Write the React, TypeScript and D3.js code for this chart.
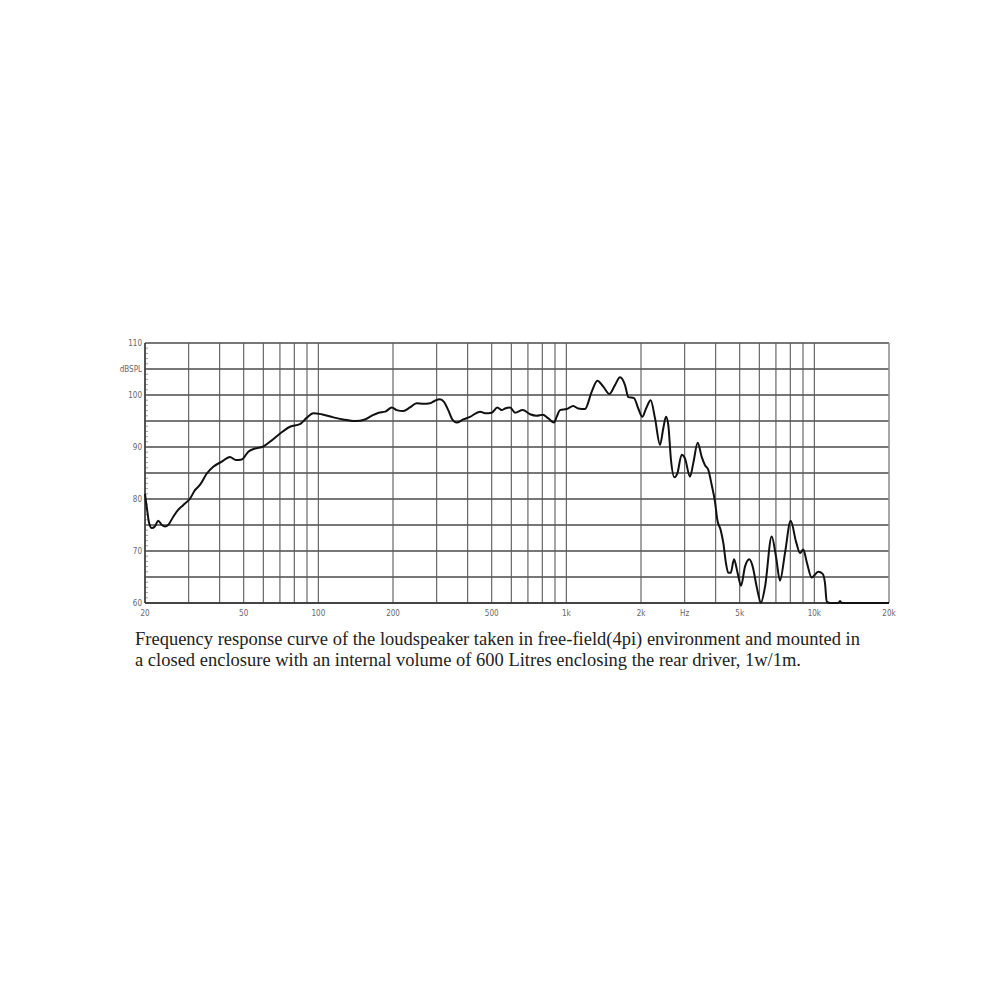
import * as d3 from "d3";

const freqs = [
  20, 20.4, 20.8, 21.3, 21.9, 22.6, 23.4, 24.1, 24.8, 26.0, 27.2, 28.5, 30.4, 31.8, 33.3, 35.5, 37.7, 40.8, 44.0, 46.5,
  49.1, 52.2, 55.5, 60.0, 63.8, 70.1, 76.9, 84.3, 89.7, 95.4, 103, 115, 126, 141, 154, 164, 175, 186, 198, 207,
  220, 234, 249, 265, 282, 295, 309, 321, 334, 348, 361, 384, 409, 449, 470, 500, 527, 549, 566, 593,
  621, 667, 714, 759, 803, 846, 892, 914, 943, 1003, 1067, 1117, 1189, 1265, 1333, 1409, 1490, 1571, 1646, 1724,
  1778, 1874, 1950, 2024, 2096, 2188, 2278, 2386, 2460, 2522, 2577, 2642, 2725, 2802, 2918, 3008, 3152, 3250, 3386, 3514,
  3623, 3736, 3856, 3975, 4062, 4193, 4296, 4404, 4498, 4600, 4743, 4908, 5061, 5253, 5467, 5642, 5856, 6094, 6325, 6730,
  7006, 7270, 7614, 8028, 8434, 8754, 9026, 9316, 9760, 10375, 10808, 11040, 11218, 11567, 12494, 12692, 12894, 20000,
];
const spl = [
  81.0, 77.9, 75.3, 74.4, 74.7, 75.8, 75.0, 74.7, 75.0, 76.6, 77.9, 78.8, 80.1, 81.7, 82.7, 84.9, 86.2, 87.2, 88.1, 87.5,
  87.6, 89.1, 89.7, 90.1, 91.0, 92.6, 93.9, 94.4, 95.6, 96.5, 96.3, 95.7, 95.3, 95.0, 95.3, 96.0, 96.6, 96.8, 97.6, 97.1,
  96.9, 97.6, 98.4, 98.3, 98.4, 98.9, 99.2, 98.7, 97.1, 95.2, 94.7, 95.3, 95.8, 96.8, 96.5, 96.6, 97.6, 97.1, 97.4, 97.6,
  96.6, 97.1, 96.3, 96.0, 96.2, 95.5, 94.7, 95.8, 97.1, 97.3, 97.9, 97.4, 97.3, 100.6, 102.75, 101.6, 100.2, 101.9, 103.4, 101.9,
  99.6, 99.4, 97.4, 95.8, 97.4, 99.0, 95.5, 90.4, 93.6, 95.8, 94.2, 87.5, 84.2, 84.9, 88.5, 87.8, 84.3, 86.9, 90.8, 88.1,
  86.5, 85.6, 82.7, 79.5, 76.0, 74.0, 71.5, 67.6, 65.8, 65.8, 68.4, 65.7, 63.3, 67.0, 68.4, 67.0, 63.1, 60.1, 63.1, 72.8,
  68.9, 64.3, 69.6, 75.8, 71.8, 69.6, 70.3, 67.9, 64.9, 66.0, 65.6, 63.8, 60.3, 60, 60, 60.4, 60, 60,
];

const gridFreqs = [
  20, 30, 40, 50, 60, 70, 80, 90, 100, 200, 300, 400, 500, 600, 700, 800, 900,
  1000, 2000, 3000, 4000, 5000, 6000, 7000, 8000, 9000, 10000, 20000,
];
const gridDb = [60, 65, 70, 75, 80, 85, 90, 95, 100, 105, 110];
const xLabels = [
  { f: 20, t: "20" }, { f: 50, t: "50" }, { f: 100, t: "100" }, { f: 200, t: "200" },
  { f: 500, t: "500" }, { f: 1000, t: "1k" }, { f: 2000, t: "2k" }, { f: 3000, t: "Hz" },
  { f: 5000, t: "5k" }, { f: 10000, t: "10k" }, { f: 20000, t: "20k" },
];
const yLabels = [
  { v: 110, t: "110" }, { v: 105, t: "dBSPL" }, { v: 100, t: "100" }, { v: 90, t: "90" },
  { v: 80, t: "80" }, { v: 70, t: "70" }, { v: 60, t: "60" },
];
const caption = [
  "Frequency response curve of the loudspeaker taken in free-field(4pi) environment and mounted in",
  "a closed enclosure  with an internal volume of 600 Litres enclosing the rear driver, 1w/1m.",
];

export default function App() {
  const left = 145, right = 889, top = 343, bottom = 603;
  const x = d3.scaleLog().domain([20, 20000]).range([left, right]);
  const y = d3.scaleLinear().domain([60, 110]).range([bottom, top]);
  const pts: [number, number][] = freqs.map((f, i) => [f, spl[i]]);
  const line = d3.line<[number, number]>()
    .x(d => x(d[0]))
    .y(d => y(d[1]))
    .curve(d3.curveMonotoneX);
  const minor = d3.range(60, 111, 1);

  return (
    <svg width={1000} height={1000} style={{ position: "absolute", left: 0, top: 0, background: "#fff" }}>
      <rect x={0} y={0} width={1000} height={1000} fill="#fff" />
      {gridDb.map(v => (
        <line key={"h" + v} x1={left} x2={right} y1={y(v)} y2={y(v)} stroke="#4a4a4a" strokeWidth={1.4} />
      ))}
      {gridFreqs.map(f => (
        <line key={"v" + f} x1={x(f)} x2={x(f)} y1={top} y2={bottom} stroke="#5a5a5a" strokeWidth={1.1} />
      ))}
      {minor.map(v => (
        <line key={"m" + v} x1={left} x2={left + 3} y1={y(v)} y2={y(v)} stroke="#888" strokeWidth={0.8} />
      ))}
      <line x1={left} x2={left} y1={top} y2={bottom} stroke="#333" strokeWidth={1.4} />
      <line x1={right} x2={right} y1={top} y2={bottom} stroke="#aaa" strokeWidth={1} />
      <line x1={left} x2={right} y1={bottom} y2={bottom} stroke="#333" strokeWidth={1.6} />
      <path d={line(pts) ?? ""} fill="none" stroke="#111" strokeWidth={2} strokeLinejoin="round" />
      <g fontFamily="'Liberation Sans Narrow', 'DejaVu Sans Condensed', sans-serif" fontSize={8} fill="#666">
        {yLabels.map(l => (
          <text key={l.t} x={left - 3} y={y(l.v) + 3} textAnchor="end">{l.t}</text>
        ))}
        {xLabels.map(l => (
          <text key={l.t} x={x(l.f)} y={bottom + 13} textAnchor="middle">{l.t}</text>
        ))}
      </g>
      <g fontFamily="'Liberation Serif', 'Times New Roman', serif" fontSize={18} fill="#222">
        <text x={135} y={645} textLength={725} lengthAdjust="spacingAndGlyphs">{caption[0]}</text>
        <text x={135} y={666} textLength={666} lengthAdjust="spacingAndGlyphs">{caption[1]}</text>
      </g>
    </svg>
  );
}
